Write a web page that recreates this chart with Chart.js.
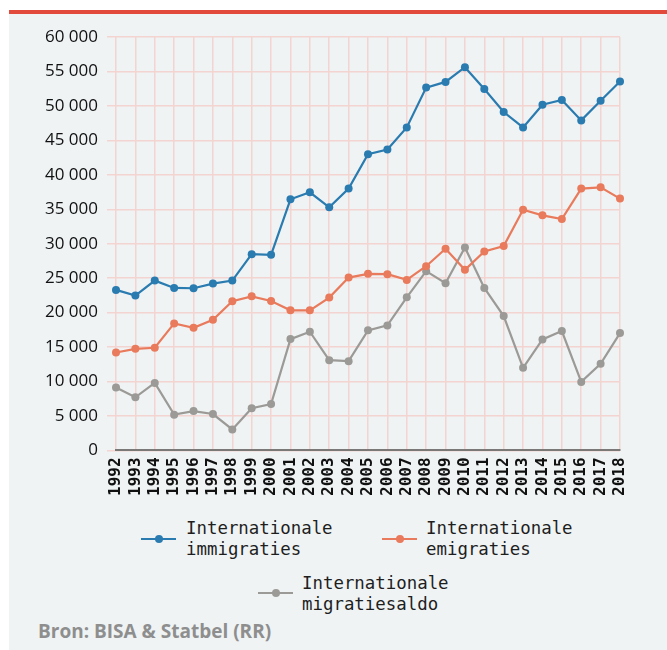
<!DOCTYPE html>
<html lang="nl">
<head>
  <meta charset="UTF-8">
  <title>Internationale migraties</title>
  <script src="https://cdn.jsdelivr.net/npm/chart.js"></script>
  <style>
    body { margin: 0; background: #fff; }
    #panel { position: absolute; left: 9px; top: 10px; width: 658px; height: 636px; background: #eff3f4; border-top: 4px solid #e24b3c; }
    #wrap { position: absolute; left: 0; top: 0; width: 658px; height: 498px; }
    .leg-text { position: absolute; font-family: 'DejaVu Sans Mono', monospace; font-size: 17.4px; line-height: 21px; color: #1e1e1e; white-space: pre; }
    .leg-line { position: absolute; width: 35px; height: 2px; }
    .leg-dot { position: absolute; left: 14px; top: -3px; width: 8px; height: 8px; border-radius: 50%; }
    #source { position: absolute; left: 29px; top: 604px; font-family: 'Open Sans', sans-serif; font-weight: 700; font-size: 19px; color: #8e8e8e; }
  </style>
</head>
<body>
  <div id="panel">
    <div id="wrap"><canvas id="migChart"></canvas></div>
    <div id="legend"></div>
    <div id="source">Bron: BISA &amp; Statbel (RR)</div>
  </div>

  <script>
    const years = ['1992', '1993', '1994', '1995', '1996', '1997', '1998', '1999', '2000', '2001', '2002', '2003', '2004',
      '2005', '2006', '2007', '2008', '2009', '2010', '2011', '2012', '2013', '2014', '2015', '2016', '2017', '2018'];

    const immigraties = [23300, 22470, 24650, 23590, 23540, 24220, 24650, 28490, 28390, 36450, 37470, 35280, 38000,
      43000, 43680, 46880, 52660, 53480, 55620, 52460, 49110, 46880, 50180, 50860, 47900, 50760, 53530];
    const emigraties = [14220, 14750, 14900, 18440, 17810, 18970, 21650, 22370, 21690, 20340, 20340, 22180, 25090,
      25630, 25580, 24750, 26740, 29270, 26210, 28880, 29660, 34940, 34120, 33590, 38000, 38190, 36550];
    const saldo = [9130, 7720, 9800, 5200, 5720, 5290, 3060, 6120, 6750, 16160, 17230, 13100, 12960,
      17430, 18150, 22230, 26020, 24270, 29460, 23590, 19510, 11990, 16110, 17330, 9950, 12570, 17040];

    const seriesLabels = [['Internationale', 'immigraties'], ['Internationale', 'emigraties'], ['Internationale', 'migratiesaldo']];
    const seriesColors = ['#2a7bb0', '#e97a5b', '#9b9a96'];

    const gridColor = '#f4d4d0';
    const fmt = v => String(v).replace(/\B(?=(\d{3})+(?!\d))/g, ' ');

    const makeSet = (i, data) => ({
      label: seriesLabels[i].join(' '),
      data,
      borderColor: seriesColors[i],
      backgroundColor: seriesColors[i],
      borderWidth: 2.2,
      pointRadius: 4,
      pointHoverRadius: 4,
      pointBorderWidth: 0,
      tension: 0
    });

    const chart = new Chart(document.getElementById('migChart'), {
      type: 'line',
      data: {
        labels: years,
        datasets: [makeSet(0, immigraties), makeSet(1, emigraties), makeSet(2, saldo)]
      },
      options: {
        responsive: true,
        maintainAspectRatio: false,
        animation: false,
        layout: { padding: { top: 23, right: 47, bottom: 9, left: 0 } },
        plugins: { legend: { display: false }, tooltip: { enabled: false } },
        scales: {
          x: {
            offset: false,
            grid: { color: gridColor, lineWidth: 1.5, drawTicks: false },
            border: { display: true, color: '#7b7878', width: 2 },
            ticks: {
              color: '#111',
              padding: 7,
              minRotation: 90,
              maxRotation: 90,
              autoSkip: false,
              font: { family: 'DejaVu Sans Mono', weight: 'bold', size: 16 }
            }
          },
          y: {
            min: 0,
            max: 60000,
            afterFit: s => { s.width = 107; },
            grid: { color: gridColor, lineWidth: 1.5, tickLength: 9, tickColor: gridColor },
            border: { display: false },
            ticks: {
              stepSize: 5000,
              color: '#111',
              padding: 9,
              font: { family: 'Open Sans', size: 17 },
              callback: v => fmt(v)
            }
          }
        }
      }
    });

    // legend, built from the datasets
    const legendPos = [
      { line: [132, 525], text: [177, 504] },
      { line: [373, 525], text: [417, 504] },
      { line: [249, 579], text: [293, 559] }
    ];
    const legend = document.getElementById('legend');
    chart.data.datasets.forEach((ds, i) => {
      const p = legendPos[i];
      const line = document.createElement('div');
      line.className = 'leg-line';
      line.style.left = p.line[0] + 'px';
      line.style.top = (p.line[1] - 1) + 'px';
      line.style.background = ds.borderColor;
      const dot = document.createElement('div');
      dot.className = 'leg-dot';
      dot.style.background = ds.borderColor;
      line.appendChild(dot);
      legend.appendChild(line);

      const text = document.createElement('div');
      text.className = 'leg-text';
      text.style.left = p.text[0] + 'px';
      text.style.top = p.text[1] + 'px';
      text.textContent = seriesLabels[i].join('\n');
      legend.appendChild(text);
    });
  </script>
</body>
</html>
